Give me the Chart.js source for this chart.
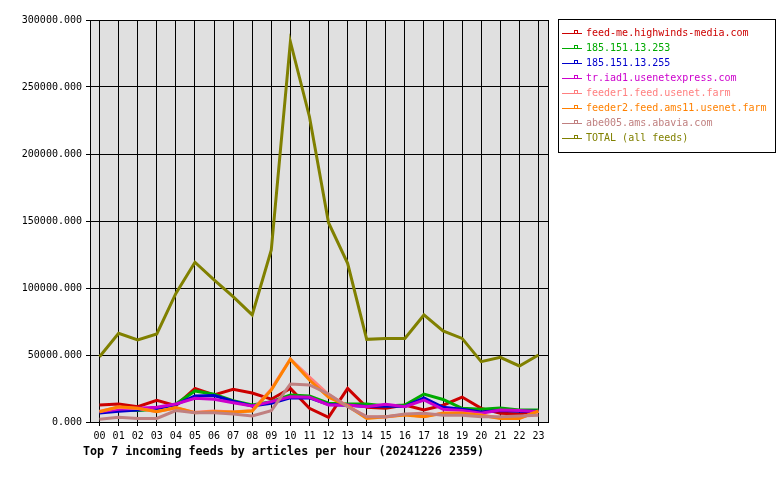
<!DOCTYPE html>
<html>
<head>
<meta charset="utf-8">
<script src="https://cdn.jsdelivr.net/npm/chart.js@4.4.1/dist/chart.umd.min.js"></script>
<style>
  html, body { margin: 0; padding: 0; background: #fff; }
  #wrap { width: 780px; height: 480px; }
</style>
</head>
<body>
<div id="wrap"><canvas id="feeds"></canvas></div>
<script>
const hours = ['00','01','02','03','04','05','06','07','08','09','10','11',
  '12','13','14','15','16','17','18','19','20','21','22','23'];

const feedNames = [
  'feed-me.highwinds-media.com',
  '185.151.13.253',
  '185.151.13.255',
  'tr.iad1.usenetexpress.com',
  'feeder1.feed.usenet.farm',
  'feeder2.feed.ams11.usenet.farm',
  'abe005.ams.abavia.com',
  'TOTAL (all feeds)',
];
const feedColors = ['#cc0000', '#00aa00', '#0000cc', '#cc00cc', '#ff8080', '#ff8000', '#c08080', '#808000'];

const highwinds = [12700, 13400, 11400, 16200, 12200, 25100, 20200, 24400, 21600, 17000, 25100, 10200,
  3500, 25100, 11000, 10200, 12700, 9000, 12500, 18600, 10200, 6500, 6000, 8200];
const ip253 = [7700, 9000, 8500, 9500, 13400, 23200, 20700, 15900, 12700, 15200, 20100, 19400,
  14000, 13400, 13400, 12000, 12700, 20900, 16800, 10200, 9500, 10500, 9000, 9000];
const ip255 = [6800, 8000, 9000, 10000, 13000, 19500, 19800, 15500, 12000, 14000, 18000, 18000,
  13000, 12500, 11500, 12000, 11500, 18000, 11000, 9500, 7500, 8500, 8000, 8000];
const usenetexpress = [7700, 9500, 10200, 11000, 13400, 17700, 16900, 14400, 12000, 15200, 18900, 18400,
  12700, 12700, 11400, 13200, 11400, 16400, 9500, 8500, 6500, 9000, 8500, 7700];
const feeder1 = [8000, 11000, 10000, 7900, 10500, 7200, 8200, 7500, 8500, 24500, 47000, 33500,
  20500, 12000, 3800, 3800, 5500, 4200, 6800, 6800, 5200, 3000, 3000, 7800];
const feeder2 = [7700, 11400, 10200, 7700, 10700, 6900, 7700, 7500, 8200, 23900, 46800, 31300,
  18400, 12000, 2700, 4000, 5200, 4000, 6500, 6600, 5000, 2700, 2700, 8200];
const abavia = [2000, 3500, 2700, 2700, 8500, 6900, 6900, 6000, 4500, 8500, 28400, 27600,
  20900, 11400, 4000, 4000, 6000, 6500, 5000, 5000, 4000, 4000, 4500, 5000];
const total = [48700, 66200, 61200, 65700, 96000, 119200, 106000, 93500, 79900, 128400, 283800, 227800,
  148700, 118400, 61700, 62400, 62400, 79900, 67900, 62400, 45000, 48300, 41800, 50000];

const yTicks = [0, 50000, 100000, 150000, 200000, 250000, 300000];
const chartTitle = 'Top 7 incoming feeds by articles per hour (20241226 2359)';

const series = [highwinds, ip253, ip255, usenetexpress, feeder1, feeder2, abavia, total];

const MONO = '"DejaVu Sans Mono", monospace';

// grey plot area, frame, legend box and bottom title
const decor = {
  id: 'decor',
  beforeDraw(chart) {
    const { ctx, chartArea: a } = chart;
    ctx.save();
    ctx.fillStyle = '#e0e0e0';
    ctx.fillRect(a.left, a.top, a.right - a.left, a.bottom - a.top);
    ctx.restore();
  },
  afterDraw(chart) {
    const { ctx, chartArea: a } = chart;
    ctx.save();
    ctx.strokeStyle = '#000';
    ctx.lineWidth = 1;
    ctx.strokeRect(Math.round(a.left) + 0.5, Math.round(a.top) + 0.5,
      Math.round(a.right - a.left), Math.round(a.bottom - a.top));

    // legend
    const lx = 558, ly = 19, lw = 217, lh = 133;
    ctx.strokeRect(lx + 0.5, ly + 0.5, lw, lh);
    ctx.font = '10px ' + MONO;
    ctx.textBaseline = 'middle';
    feedNames.forEach((name, i) => {
      const y = 33 + i * 15;
      const c = feedColors[i];
      ctx.strokeStyle = c;
      ctx.lineWidth = 1;
      ctx.beginPath();
      ctx.moveTo(562, y + 0.5);
      ctx.lineTo(582, y + 0.5);
      ctx.stroke();
      ctx.strokeRect(574.5, y - 2.5, 3, 3);
      ctx.fillStyle = c;
      ctx.fillText(name, 586, y);
    });

    // title
    ctx.fillStyle = '#000';
    ctx.font = 'bold 11.7px ' + MONO;
    ctx.textBaseline = 'middle';
    ctx.fillText(chartTitle, 83, 452);
    ctx.restore();
  },
};

new Chart(document.getElementById('feeds'), {
  type: 'line',
  data: {
    labels: hours,
    datasets: series.map((data, i) => ({
      label: feedNames[i],
      data,
      borderColor: feedColors[i],
      backgroundColor: feedColors[i],
      borderWidth: 3,
      pointRadius: 0,
      tension: 0,
      fill: false,
      order: series.length - i,
    })),
  },
  options: {
    responsive: true,
    maintainAspectRatio: false,
    animation: false,
    layout: { padding: { top: 20, right: 232, left: 0, bottom: 0 } },
    plugins: {
      legend: { display: false },
      title: { display: false },
      tooltip: { enabled: false },
    },
    scales: {
      x: {
        offset: true,
        afterFit: (s) => { s.height = 58; },
        grid: { color: '#000', lineWidth: 1, offset: false, tickLength: 4 },
        border: { color: '#000' },
        ticks: { color: '#000', font: { family: MONO, size: 10 }, padding: 4, maxRotation: 0, autoSkip: false },
      },
      y: {
        min: 0,
        max: 300000,
        afterFit: (s) => { s.width = 90; },
        afterBuildTicks: (s) => { s.ticks = yTicks.map((v) => ({ value: v })); },
        grid: { color: '#000', lineWidth: 1, tickLength: 4 },
        border: { color: '#000' },
        ticks: {
          color: '#000',
          font: { family: MONO, size: 10 },
          padding: 4,
          callback: (v) => v.toFixed(3),
        },
      },
    },
  },
  plugins: [decor],
});
</script>
</body>
</html>
